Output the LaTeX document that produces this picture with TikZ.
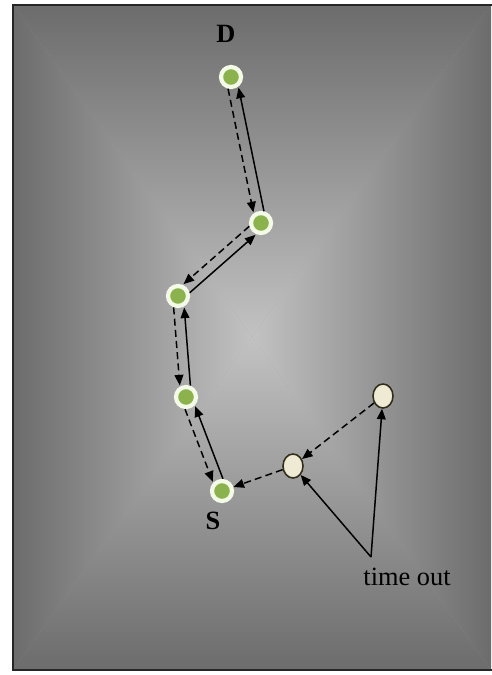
\documentclass[tikz,border=0pt]{standalone}
\usepackage{fontspec}
\setmainfont{Liberation Serif}
\usetikzlibrary{arrows.meta, calc, shapes.geometric}

\definecolor{edgegray}{RGB}{108,108,108}
\definecolor{midgray}{RGB}{194,194,194}
\definecolor{nodegreen}{RGB}{139,178,76}
\definecolor{halo}{RGB}{244,250,232}
\definecolor{beige}{RGB}{238,234,212}
\definecolor{olive}{RGB}{50,46,28}

\tikzset{
  hop/.style={circle, fill=nodegreen, draw=halo, line width=2.4pt, minimum size=0.40cm, inner sep=0pt},
  idle/.style={ellipse, fill=beige, draw=olive, line width=0.9pt, minimum width=0.4cm, minimum height=0.48cm, inner sep=0pt},
  req/.style={-{Triangle[length=6pt, width=5pt]}, line width=0.85pt, dash pattern=on 4pt off 2.4pt},
  rep/.style={-{Triangle[length=6pt, width=5pt]}, line width=0.85pt},
  tag/.style={font=\fontsize{15}{18}\selectfont},
}

% dashed request on one side, solid reply back on the other
\newcommand\hoplink[2]{%
  \draw[req, shorten <=0.22cm, shorten >=0.24cm] ($(#1)!3pt!-90:(#2)$) -- ($(#2)!3pt!90:(#1)$);
  \draw[rep, shorten <=0.22cm, shorten >=0.24cm] ($(#2)!3pt!-90:(#1)$) -- ($(#1)!3pt!90:(#2)$);
}

\begin{document}
\begin{tikzpicture}[x=0.02cm, y=-0.02cm]
    \useasboundingbox (0,0) rectangle (491,675);
    \coordinate (c) at (252,337);

    % background, brighter towards the middle
    \fill[edgegray!45!midgray] (13,5) rectangle (491,670);
    \shade[top color=edgegray, bottom color=midgray] (13,5) -- (491,5) -- (c) -- cycle;
    \shade[top color=midgray, bottom color=edgegray] (13,670) -- (491,670) -- (c) -- cycle;
    \shade[left color=edgegray, right color=midgray] (13,5) -- (13,670) -- (c) -- cycle;
    \shade[left color=midgray, right color=edgegray] (491,5) -- (491,670) -- (c) -- cycle;
    \draw[black!85, line width=1.2pt] (494,5) -- (13,5) -- (13,670) -- (494,670);

    \node[hop] (D) at (231,77) {};
    \node[hop] (N2) at (261,223) {};
    \node[hop] (N3) at (178,296) {};
    \node[hop] (N4) at (186,397) {};
    \node[hop] (S) at (222,491) {};
    \node[idle] (T1) at (293,466) {};
    \node[idle] (T2) at (383,396) {};

    \node[tag, font=\fontsize{15}{18}\selectfont\bfseries] (Dlbl) at (226,34) {D};
    \node[tag, font=\fontsize{15}{18}\selectfont\bfseries] (Slbl) at (213,521) {S};
    \node[tag] (tolbl) at (407,577) {time out};
    \coordinate (tosrc) at (371,557);

    \hoplink{D}{N2}
    \hoplink{N2}{N3}
    \hoplink{N3}{N4}
    \hoplink{N4}{S}

    \draw[req] (T2) -- (T1);
    \draw[req] (T1) -- (S);
    \draw[rep] (tosrc) -- (T1);
    \draw[rep] (tosrc) -- (T2);
\end{tikzpicture}
\end{document}
